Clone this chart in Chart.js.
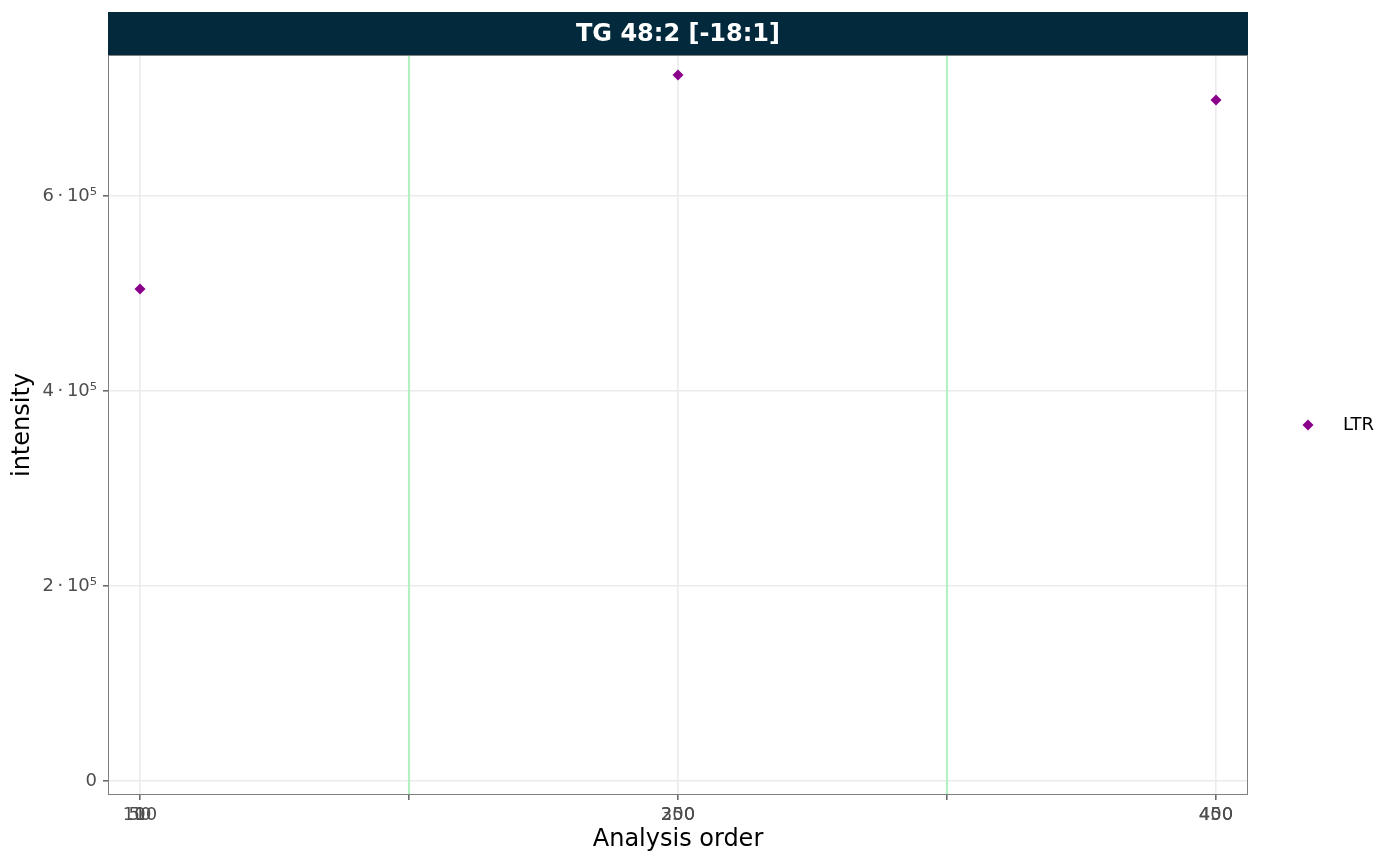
<!DOCTYPE html>
<html>
<head>
<meta charset="utf-8">
<script src="https://cdn.jsdelivr.net/npm/chart.js@4.4.1/dist/chart.umd.min.js"></script>
<style>
html,body{margin:0;padding:0;background:#ffffff;}
#wrap{width:1400px;height:865px;}
canvas{display:block;}
</style>
</head>
<body>
<div id="wrap"><canvas id="c" width="1400" height="865"></canvas></div>
<script>
// ---- data ----
const panelTitle = 'TG 48:2 [-18:1]';
const seriesName = 'LTR';
const ltrOrder = [1, 3, 5];
const ltrIntensity = [504600, 724100, 698500];
const batchBoundaries = [2, 4];
const xTickPositions = [1, 2, 3, 4, 5];
const xTickLabels = [['1', '50', '100'], [], ['250', '300'], [], ['400', '450']];
const yTickValues = [0, 200000, 400000, 600000];
const yTickLabels = ['0', '2\u2009·\u200910⁵', '4\u2009·\u200910⁵', '6\u2009·\u200910⁵'];
const xRange = [0.881, 5.119];
const yRange = [-14360, 744600];

// ---- styles ----
const FONT = "'DejaVu Sans', sans-serif";
const pointColor = '#8B008B';
const batchColor = '#B3F0C4';
const stripColor = '#022A3C';
const tickTextColor = '#4D4D4D';
const borderColor = '#7F7F7F';

Chart.defaults.font.family = FONT;

function drawDiamond(ctx, x, y, r, color) {
  ctx.beginPath();
  ctx.moveTo(x, y - r);
  ctx.lineTo(x + r, y);
  ctx.lineTo(x, y + r);
  ctx.lineTo(x - r, y);
  ctx.closePath();
  ctx.fillStyle = color;
  ctx.fill();
}

const panelDecor = {
  id: 'panelDecor',
  beforeDraw(chart) {
    const {ctx, chartArea: a} = chart;
    ctx.save();
    ctx.fillStyle = stripColor;
    ctx.fillRect(a.left, 12, a.right - a.left, a.top - 12);
    ctx.fillStyle = '#ffffff';
    ctx.font = 'bold 24px ' + FONT;
    ctx.textAlign = 'center';
    ctx.textBaseline = 'middle';
    ctx.fillText(panelTitle, (a.left + a.right) / 2, (12 + a.top) / 2 + 1);
    ctx.restore();
  },
  afterDraw(chart) {
    const {ctx, chartArea: a, scales} = chart;
    ctx.save();
    // panel border
    ctx.strokeStyle = borderColor;
    ctx.lineWidth = 1;
    ctx.strokeRect(a.left + 0.5, a.top + 0.5, a.right - a.left - 1, a.bottom - a.top - 1);
    // x tick labels (overlapping, as in reference)
    ctx.fillStyle = tickTextColor;
    ctx.font = '18px ' + FONT;
    ctx.textAlign = 'center';
    ctx.textBaseline = 'alphabetic';
    xTickPositions.forEach((v, i) => {
      const px = scales.x.getPixelForValue(v);
      xTickLabels[i].forEach(lbl => ctx.fillText(lbl, px, a.bottom + 25));
    });
    // legend
    const ly = (a.top + a.bottom) / 2;
    drawDiamond(ctx, a.right + 60, ly, 5.5, pointColor);
    ctx.fillStyle = '#000000';
    ctx.font = '18px ' + FONT;
    ctx.textAlign = 'left';
    ctx.textBaseline = 'middle';
    ctx.fillText(seriesName, a.right + 95, ly);
    ctx.restore();
  }
};

const datasets = [
  {
    label: seriesName,
    data: ltrOrder.map((x, i) => ({x: x, y: ltrIntensity[i]})),
    pointStyle: 'rectRot',
    pointRadius: 5.5,
    pointBorderWidth: 0,
    backgroundColor: pointColor,
    borderColor: pointColor,
    showLine: false
  }
];
batchBoundaries.forEach(b => {
  datasets.push({
    label: 'batch',
    data: [{x: b, y: yRange[0]}, {x: b, y: yRange[1]}],
    showLine: true,
    borderColor: batchColor,
    borderWidth: 2.2,
    pointRadius: 0
  });
});

new Chart(document.getElementById('c'), {
  type: 'scatter',
  data: {datasets: datasets},
  plugins: [panelDecor],
  options: {
    responsive: false,
    animation: false,
    devicePixelRatio: 1,
    layout: {padding: {left: 0, top: 55, right: 152, bottom: 0}},
    plugins: {legend: {display: false}, tooltip: {enabled: false}},
    scales: {
      x: {
        type: 'linear',
        min: xRange[0],
        max: xRange[1],
        afterBuildTicks: s => { s.ticks = xTickPositions.map(v => ({value: v})); },
        afterFit: s => { s.height = 70; },
        grid: {color: '#EBEBEB', lineWidth: 1.6, drawTicks: true, tickLength: 5, tickColor: '#6B6B6B'},
        border: {display: false},
        ticks: {display: false},
        title: {display: true, text: 'Analysis order', color: '#000000', font: {size: 24}, padding: {top: 0, bottom: 11}}
      },
      y: {
        type: 'linear',
        min: yRange[0],
        max: yRange[1],
        afterBuildTicks: s => { s.ticks = yTickValues.map(v => ({value: v})); },
        afterFit: s => { s.width = 108; },
        grid: {color: '#EBEBEB', lineWidth: 1.6, drawTicks: true, tickLength: 5, tickColor: '#6B6B6B'},
        border: {display: false},
        ticks: {
          color: tickTextColor,
          font: {size: 18},
          padding: 6,
          callback: v => { const i = yTickValues.indexOf(v); return i >= 0 ? yTickLabels[i] : ''; }
        },
        title: {display: true, text: 'intensity', color: '#000000', font: {size: 24}, padding: {top: 8, bottom: 0}}
      }
    }
  }
});
</script>
</body>
</html>
